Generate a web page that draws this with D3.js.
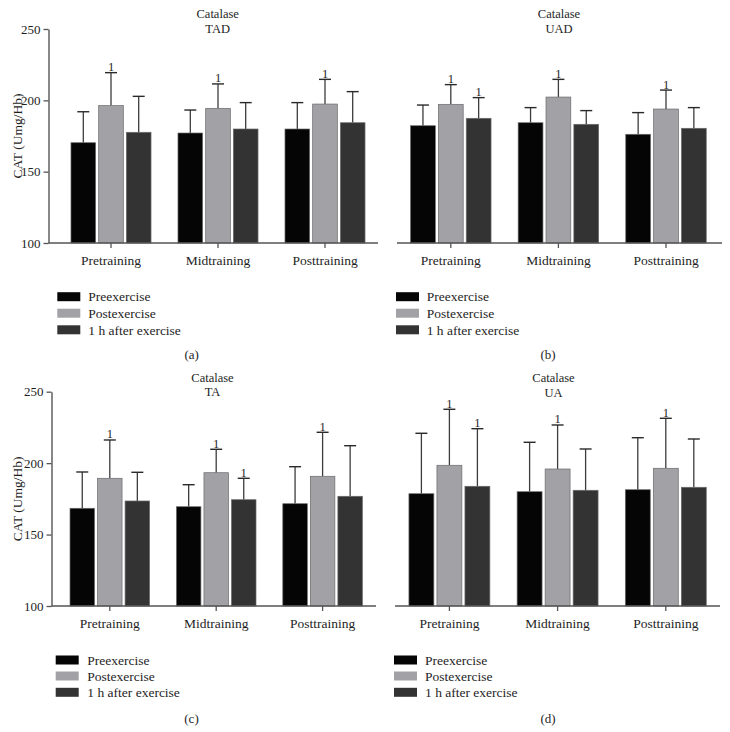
<!DOCTYPE html>
<html><head><meta charset="utf-8">
<script src="https://cdn.jsdelivr.net/npm/d3@7"></script>
<style>
html,body{margin:0;padding:0;background:#fff;}
svg text{font-family:"Liberation Serif","DejaVu Serif",serif;fill:#1e1e1e;}
</style>
</head><body>
<svg id="chart" width="730" height="732"></svg>
<script>
// ---- data ----
const categories = ["Pretraining", "Midtraining", "Posttraining"];
const seriesNames = ["Preexercise", "Postexercise", "1 h after exercise"];
const yTicks = [100, 150, 200, 250];
const panelTitles = ["TAD", "UAD", "TA", "UA"];
const panelLetters = ["(a)", "(b)", "(c)", "(d)"];

// means: rows = categories, columns = series
const tadMeans = [[170.3, 196.3, 177.6], [177.1, 194.4, 179.9], [179.9, 197.4, 184.3]];
const tadSD    = [[21.7, 23.1, 25.2], [16.1, 17.1, 18.5], [18.5, 17.3, 21.8]];
const tadSig   = [[0, 1, 0], [0, 1, 0], [0, 1, 0]];

const uadMeans = [[182.2, 197.2, 187.4], [184.3, 202.3, 183.2], [176.2, 193.9, 180.4]];
const uadSD    = [[14.5, 13.8, 14.5], [10.6, 12.4, 9.6], [15.2, 13.3, 14.5]];
const uadSig   = [[0, 1, 1], [0, 1, 0], [0, 1, 0]];

const taMeans  = [[168.4, 189.4, 173.5], [169.5, 193.3, 174.4], [171.6, 190.8, 176.8]];
const taSD     = [[25.4, 26.8, 20.1], [15.4, 16.4, 15.0], [25.9, 30.8, 35.4]];
const taSig    = [[0, 1, 0], [0, 1, 1], [0, 1, 0]];

const uaMeans  = [[178.6, 198.5, 183.8], [180.0, 195.9, 181.0], [181.4, 196.4, 183.1]];
const uaSD     = [[42.3, 39.2, 40.3], [34.6, 30.8, 28.9], [36.4, 35.0, 33.8]];
const uaSig    = [[0, 1, 1], [0, 1, 0], [0, 1, 0]];

const colors = ["#050505", "#a2a1a6", "#333333"];

// ---- layout ----
const layouts = [
  {means: tadMeans, sd: tadSD, sig: tadSig, yAxis: true, axisX: 48.5, top: 29, bottom: 243,
   gStart: 57.5, gStep: 107, axisEnd: 378, titleX: 217.7, t1: 18, t2: 33,
   legX: 57.3, legTextX: 88.3, legY: [296.7, 313.2, 329.8], labX: 191.7, labY: 359},
  {means: uadMeans, sd: uadSD, sig: uadSig, yAxis: false, axisX: 397, top: 29, bottom: 243,
   gStart: 397, gStep: 107.6, axisEnd: 722, titleX: 559, t1: 18, t2: 33,
   legX: 396, legTextX: 426.7, legY: [296.7, 313.2, 329.8], labX: 548, labY: 359},
  {means: taMeans, sd: taSD, sig: taSig, yAxis: true, axisX: 51.5, top: 391.7, bottom: 606,
   gStart: 56.6, gStep: 106.4, axisEnd: 376, titleX: 212.5, t1: 381.5, t2: 396,
   legX: 55.7, legTextX: 87.3, legY: [660, 676, 692.3], labX: 191.5, labY: 723},
  {means: uaMeans, sd: uaSD, sig: uaSig, yAxis: false, axisX: 395, top: 391.7, bottom: 606,
   gStart: 395.3, gStep: 108.2, axisEnd: 720, titleX: 553.5, t1: 382, t2: 396.5,
   legX: 394, legTextX: 425, legY: [660, 676, 692.3], labX: 548, labY: 723}
];

const svg = d3.select("#chart");
const axisColor = "#555";

layouts.forEach((L, pi) => {
  const g = svg.append("g");
  const y = d3.scaleLinear().domain([100, 250]).range([L.bottom, L.top]);
  const x0 = d3.scaleBand().domain(categories)
    .range([L.gStart, L.gStart + 3 * L.gStep]).paddingInner(0.252).paddingOuter(0.126);
  const x1 = d3.scaleBand().domain(seriesNames).range([0, x0.bandwidth()]).paddingInner(0.11);

  // bars
  categories.forEach((cat, ci) => {
    seriesNames.forEach((s, si) => {
      const v = L.means[ci][si];
      const bx = x0(cat) + x1(s);
      const cx = bx + x1.bandwidth() / 2;
      const top = v + L.sd[ci][si];
      // error bar
      g.append("line").attr("x1", cx).attr("x2", cx).attr("y1", y(v)).attr("y2", y(top))
        .attr("stroke", "#3c3c3c").attr("stroke-width", 1.3);
      g.append("line").attr("x1", cx - 6).attr("x2", cx + 6).attr("y1", y(top)).attr("y2", y(top))
        .attr("stroke", "#2a2a2a").attr("stroke-width", 1.4);
      g.append("rect").attr("x", bx).attr("y", y(v))
        .attr("width", x1.bandwidth()).attr("height", y(100) - y(v))
        .attr("fill", colors[si]).attr("stroke", "#6a6a6a").attr("stroke-width", 0.7);
      if (L.sig[ci][si]) {
        g.append("text").attr("x", cx).attr("y", y(top) - 1.5).attr("text-anchor", "middle")
          .attr("font-size", 12.5).text("1");
      }
    });
  });

  // x axis
  const xa = g.append("g").attr("transform", `translate(0,${L.bottom})`)
    .call(d3.axisBottom(x0).tickSize(5).tickSizeOuter(0));
  xa.attr("font-family", null);
  xa.select(".domain").remove();
  xa.append("line").attr("x1", L.axisX).attr("x2", L.axisEnd).attr("y1", 0).attr("y2", 0)
    .attr("stroke", axisColor).attr("stroke-width", 1.4);
  xa.selectAll(".tick line").attr("stroke", axisColor).attr("stroke-width", 1.3);
  xa.selectAll(".tick text").attr("font-size", 13.5).attr("dy", 0).attr("y", 22)
    .style("font-family", '"Liberation Serif", serif').attr("fill", "#1e1e1e");

  // y axis
  if (L.yAxis) {
    const ya = g.append("g").attr("transform", `translate(${L.axisX},0)`)
      .call(d3.axisLeft(y).tickValues(yTicks).tickSize(5).tickSizeOuter(0).tickPadding(3));
    ya.attr("font-family", null);
    ya.select(".domain").attr("stroke", axisColor).attr("stroke-width", 1.4);
    ya.selectAll(".tick line").attr("stroke", axisColor).attr("stroke-width", 1.3);
    ya.selectAll(".tick text").attr("font-size", 13).attr("fill", "#1e1e1e")
      .style("font-family", '"Liberation Serif", serif');
    g.append("text").attr("transform", `translate(17,${(L.top + L.bottom) / 2}) rotate(-90)`)
      .attr("text-anchor", "middle").attr("dy", "0.35em").attr("font-size", 13.5)
      .text("CAT (Umg/Hb)");
  }

  // titles
  g.append("text").attr("x", L.titleX).attr("y", L.t1).attr("text-anchor", "middle")
    .attr("font-size", 12.5).text("Catalase");
  g.append("text").attr("x", L.titleX).attr("y", L.t2).attr("text-anchor", "middle")
    .attr("font-size", 12.5).text(panelTitles[pi]);

  // legend
  seriesNames.forEach((s, si) => {
    g.append("rect").attr("x", L.legX).attr("y", L.legY[si] - 4.5).attr("width", 23).attr("height", 9)
      .attr("fill", colors[si]);
    g.append("text").attr("x", L.legTextX).attr("y", L.legY[si]).attr("dy", "0.35em")
      .attr("font-size", 13.5).text(s);
  });

  // panel letter
  g.append("text").attr("x", L.labX).attr("y", L.labY).attr("text-anchor", "middle")
    .attr("font-size", 13).text(panelLetters[pi]);
});
</script>
</body></html>
